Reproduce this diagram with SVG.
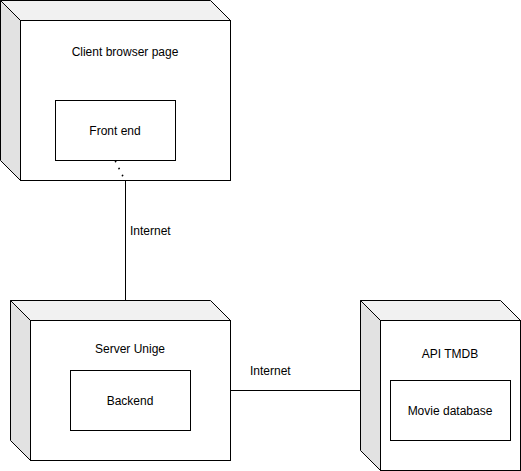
<svg xmlns="http://www.w3.org/2000/svg" width="521" height="471" viewBox="0 0 521 471">
<style>
.face{fill:#ffffff;stroke:#000000;stroke-width:1}
.top{fill:#f1f1f1;stroke:#000000;stroke-width:1}
.side{fill:#e2e2e2;stroke:#000000;stroke-width:1}
.box{fill:#ffffff;stroke:#000000;stroke-width:1}
.conn{fill:none;stroke:#000000;stroke-width:1}
.dot{fill:none;stroke:#000000;stroke-width:1.8;stroke-linecap:round;stroke-dasharray:0.01 7.8}
text{font-family:"Liberation Sans",Arial,sans-serif;font-size:12px;fill:#000000;text-anchor:middle}
.lbl{text-anchor:start}
</style>
<rect width="521" height="471" fill="#ffffff"/>
<g id="client">
<path class="top" d="M0.5 0.5 L210.5 0.5 L230.5 20.5 L20.5 20.5 Z"/>
<path class="side" d="M0.5 0.5 L20.5 20.5 L20.5 180.5 L0.5 160.5 Z"/>
<rect class="face" x="20.5" y="20.5" width="210" height="160"/>
<text x="125" y="56">Client browser page</text>
<g id="frontend">
<rect class="box" x="55.5" y="100.5" width="120" height="60"/>
<text x="115" y="135">Front end</text>
</g>
</g>
<g id="server">
<path class="top" d="M10.5 300.5 L210.5 300.5 L230.5 320.5 L30.5 320.5 Z"/>
<path class="side" d="M10.5 300.5 L30.5 320.5 L30.5 460.5 L10.5 440.5 Z"/>
<rect class="face" x="30.5" y="320.5" width="200" height="140"/>
<text x="130" y="353">Server Unige</text>
<g id="backend">
<rect class="box" x="70.5" y="370.5" width="120" height="60"/>
<text x="130" y="405">Backend</text>
</g>
</g>
<g id="api">
<path class="top" d="M360.5 300.5 L500.5 300.5 L520.5 320.5 L380.5 320.5 Z"/>
<path class="side" d="M360.5 300.5 L380.5 320.5 L380.5 470.5 L360.5 450.5 Z"/>
<rect class="face" x="380.5" y="320.5" width="140" height="150"/>
<text x="450" y="358">API TMDB</text>
<g id="moviedb">
<rect class="box" x="390.5" y="380.5" width="120" height="60"/>
<text x="450" y="415">Movie database</text>
</g>
</g>
<g id="connectors">
<path class="dot" d="M115.6 161.5 L125.5 181.5"/>
<path class="conn" d="M125.5 180.5 L125.5 300.5"/>
<path class="conn" d="M230.5 390.5 L360.5 390.5"/>
<text class="lbl" x="130" y="235">Internet</text>
<text class="lbl" x="250" y="375">Internet</text>
</g>
</svg>
